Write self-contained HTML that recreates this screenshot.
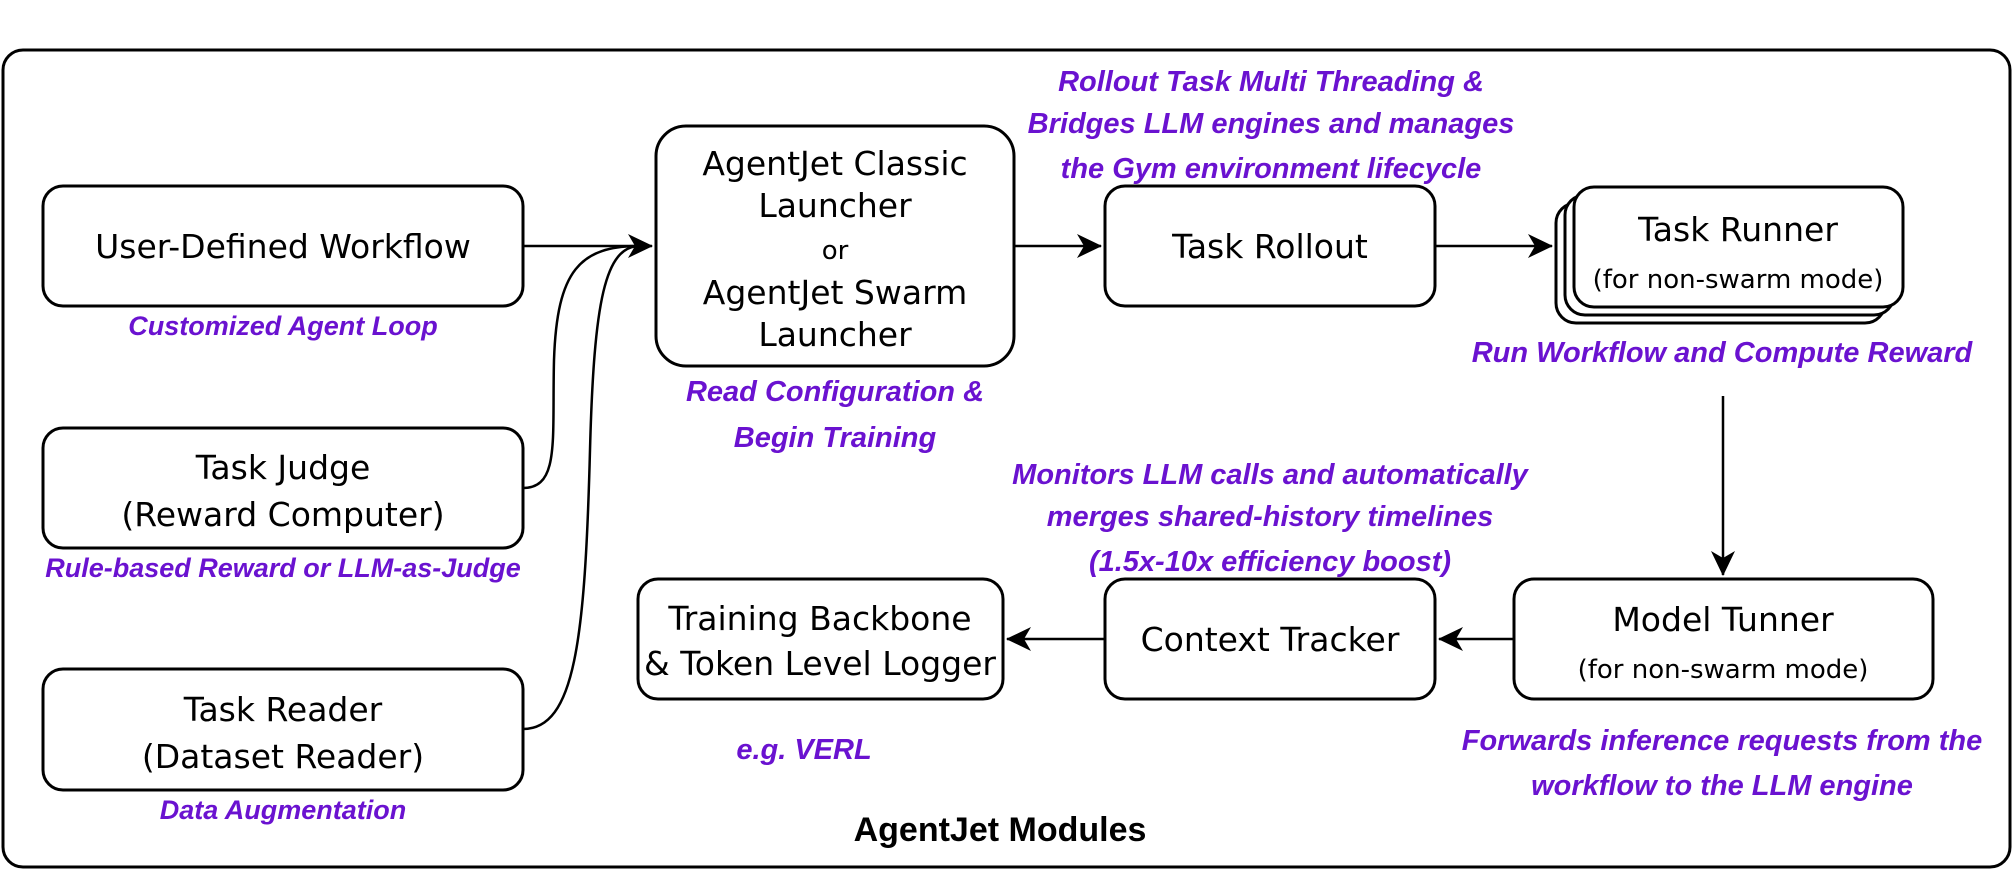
<!DOCTYPE html>
<html><head><meta charset="utf-8"><style>
html,body{margin:0;padding:0;background:#fff;}
svg{display:block;}
.b{fill:#fff;stroke:#000;stroke-width:3;}
.t{font-family:"DejaVu Sans","Liberation Sans",sans-serif;font-size:33px;fill:#000;text-anchor:middle;}
.s{font-family:"DejaVu Sans","Liberation Sans",sans-serif;font-size:26px;fill:#000;text-anchor:middle;}
.p{font-family:"Liberation Sans",sans-serif;font-size:29px;font-weight:bold;font-style:italic;fill:#6a12d0;text-anchor:middle;}
.q{font-family:"Liberation Sans",sans-serif;font-size:27px;font-weight:bold;font-style:italic;fill:#6a12d0;text-anchor:middle;}
.l{stroke:#000;stroke-width:2.5;fill:none;}
</style></head><body>
<svg width="2013" height="870" viewBox="0 0 2013 870" xmlns="http://www.w3.org/2000/svg">
<defs>
<marker id="A" markerWidth="26" markerHeight="26" refX="24" refY="13" orient="auto" markerUnits="userSpaceOnUse" viewBox="0 0 26 26"><path d="M0,1 L25,13 L0,25 L7,13 Z" fill="#000"/></marker></defs>
<rect x="3" y="50" width="2007" height="817" rx="20" class="b"/>

<rect x="43" y="186" width="480" height="120" rx="20" class="b"/>
<text x="283" y="258" class="t">User-Defined Workflow</text>
<text x="283" y="335" class="q">Customized Agent Loop</text>

<rect x="43" y="428" width="480" height="120" rx="20" class="b"/>
<text x="283" y="479" class="t">Task Judge</text>
<text x="283" y="526" class="t">(Reward Computer)</text>
<text x="283" y="577" class="q">Rule-based Reward or LLM-as-Judge</text>

<rect x="43" y="669" width="480" height="121" rx="20" class="b"/>
<text x="283" y="721" class="t">Task Reader</text>
<text x="283" y="768" class="t">(Dataset Reader)</text>
<text x="283" y="819" class="q">Data Augmentation</text>

<rect x="656" y="126" width="358" height="240" rx="30" class="b"/>
<text x="835" y="175" class="t">AgentJet Classic</text>
<text x="835" y="217" class="t">Launcher</text>
<text x="835" y="259" class="s">or</text>
<text x="835" y="304" class="t">AgentJet Swarm</text>
<text x="835" y="346" class="t">Launcher</text>
<text x="835" y="401" class="p">Read Configuration &amp;</text>
<text x="835" y="447" class="p">Begin Training</text>

<path d="M523,246 L652,246" class="l" marker-end="url(#A)"/>
<path d="M523,488 C560,488 552,440 554,360 C557,270 580,246 640,246" class="l"/>
<path d="M523,729 C575,729 585,640 590,450 C594,300 605,246 640,246" class="l"/>

<text x="1271" y="91" class="p">Rollout Task Multi Threading &amp;</text>
<text x="1271" y="133" class="p">Bridges LLM engines and manages</text>
<text x="1271" y="178" class="p">the Gym environment lifecycle</text>
<path d="M1014,246 L1101,246" class="l" marker-end="url(#A)"/>
<rect x="1105" y="186" width="330" height="120" rx="20" class="b"/>
<text x="1270" y="258" class="t">Task Rollout</text>
<path d="M1435,246 L1552,246" class="l" marker-end="url(#A)"/>

<rect x="1556" y="203" width="329" height="120" rx="20" class="b"/>
<rect x="1565" y="195" width="329" height="120" rx="20" class="b"/>
<rect x="1574" y="187" width="329" height="120" rx="20" class="b"/>
<text x="1738" y="241" class="t">Task Runner</text>
<text x="1738" y="288" class="s">(for non-swarm mode)</text>
<text x="1722" y="362" class="p">Run Workflow and Compute Reward</text>
<path d="M1723,396 L1723,575" class="l" marker-end="url(#A)"/>

<rect x="1514" y="579" width="419" height="120" rx="20" class="b"/>
<text x="1723" y="631" class="t">Model Tunner</text>
<text x="1723" y="678" class="s">(for non-swarm mode)</text>
<text x="1722" y="750" class="p">Forwards inference requests from the</text>
<text x="1722" y="795" class="p">workflow to the LLM engine</text>

<path d="M1514,639 L1439,639" class="l" marker-end="url(#A)"/>
<rect x="1105" y="579" width="330" height="120" rx="20" class="b"/>
<text x="1270" y="651" class="t">Context Tracker</text>
<text x="1270" y="484" class="p">Monitors LLM calls and automatically</text>
<text x="1270" y="526" class="p">merges shared-history timelines</text>
<text x="1270" y="571" class="p">(1.5x-10x efficiency boost)</text>

<path d="M1105,639 L1007,639" class="l" marker-end="url(#A)"/>
<rect x="638" y="579" width="365" height="120" rx="20" class="b"/>
<text x="820" y="630" class="t">Training Backbone</text>
<text x="820" y="675" class="t">&amp; Token Level Logger</text>
<text x="804" y="759" class="p">e.g. VERL</text>

<text x="1000" y="841" font-family="Liberation Sans, sans-serif" font-size="34" font-weight="bold" text-anchor="middle">AgentJet Modules</text>
</svg>
</body></html>
